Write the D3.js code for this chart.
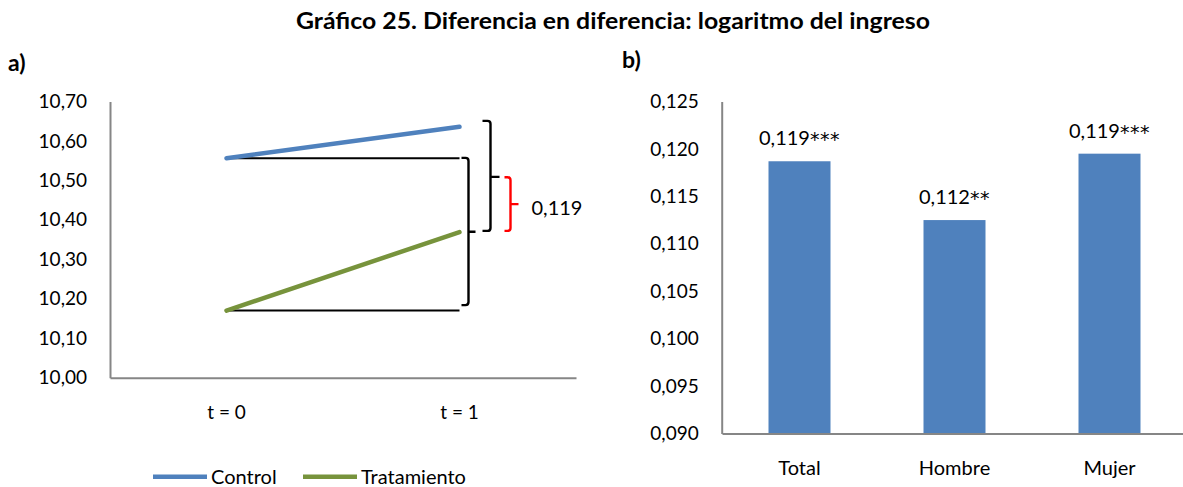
<!DOCTYPE html>
<html><head><meta charset="utf-8">
<script src="https://cdn.jsdelivr.net/npm/d3@7"></script>
<style>
html,body{margin:0;padding:0;background:#fff;}
svg{display:block;font-family:Lato,"Open Sans",sans-serif;}
</style></head>
<body>
<svg id="c" width="1183" height="487"></svg>
<script>
// ---- data ----
const title = "Gráfico 25. Diferencia en diferencia: logaritmo del ingreso";
const periods = ["t = 0", "t = 1"];
const controlValues = [10.556, 10.636];
const treatmentValues = [10.170, 10.369];
const seriesNames = ["Control", "Tratamiento"];
const leftTicks = [10.0, 10.1, 10.2, 10.3, 10.4, 10.5, 10.6, 10.7];
const didLabel = "0,119";
// brace annotations (data units): top, bottom, middle tick
const braceInner = {top: 10.557, bottom: 10.184, mid: 10.370};
const braceOuter = {top: 10.651, bottom: 10.372, mid: 10.509};
const braceRed   = {top: 10.508, bottom: 10.372, mid: 10.440};

const groups = ["Total", "Hombre", "Mujer"];
const groupValues = [0.1187, 0.1125, 0.1195];
const groupNumbers = ["0,119", "0,112", "0,119"];
const groupStars = ["***", "**", "***"];
const rightTicks = [0.090, 0.095, 0.100, 0.105, 0.110, 0.115, 0.120, 0.125];

// ---- setup ----
const loc = d3.formatLocale({decimal: ",", thousands: ".", grouping: [3], currency: ["", ""]});
const f2 = loc.format(".2f"), f3 = loc.format(".3f");
const svg = d3.select("#c");
const axisColor = "#868686";
const blue = "#4F81BD", green = "#77933C";
const fsTick = 19, fs = 20;

svg.append("text").attr("x", 613).attr("y", 20).attr("text-anchor", "middle")
  .attr("dominant-baseline", "central").attr("font-weight", "bold").attr("font-size", 23)
  .attr("textLength", 634).attr("lengthAdjust", "spacingAndGlyphs")
  .text(title);
svg.append("text").attr("x", 8).attr("y", 62).attr("dominant-baseline", "central")
  .attr("font-weight", "bold").attr("font-size", 23).text("a)");
svg.append("text").attr("x", 622).attr("y", 59).attr("dominant-baseline", "central")
  .attr("font-weight", "bold").attr("font-size", 23).text("b)");

// ---- left chart ----
const yL = d3.scaleLinear().domain([10.0, 10.7]).range([377.7, 101.5]);
const xL = d3.scaleBand().domain(periods).range([110, 576]).padding(0);
const cx = p => xL(p) + xL.bandwidth() / 2;

const gL = svg.append("g");
const ayL = gL.append("g").attr("transform", "translate(110,0)")
  .call(d3.axisLeft(yL).tickValues(leftTicks).tickFormat(f2).tickSize(0).tickPadding(23));
ayL.select(".domain").attr("stroke", axisColor).attr("stroke-width", 2);
ayL.selectAll("text").attr("font-size", fsTick).attr("font-family", "Lato").attr("fill", "#000");
const axL = gL.append("g").attr("transform", "translate(0,377.7)")
  .call(d3.axisBottom(xL).tickSize(0).tickPadding(28));
axL.select(".domain").attr("stroke", axisColor).attr("stroke-width", 2);
axL.selectAll("text").attr("font-size", fsTick).attr("font-family", "Lato").attr("fill", "#000");

[controlValues[0], treatmentValues[0]].forEach(v => {
  gL.append("line").attr("x1", cx(periods[0])).attr("x2", cx(periods[1]))
    .attr("y1", yL(v)).attr("y2", yL(v)).attr("stroke", "#000").attr("stroke-width", 2);
});

const line = d3.line().x((d, i) => cx(periods[i])).y(d => yL(d));
gL.append("path").datum(controlValues).attr("d", line).attr("fill", "none")
  .attr("stroke", blue).attr("stroke-width", 4.5).attr("stroke-linecap", "round");
gL.append("path").datum(treatmentValues).attr("d", line).attr("fill", "none")
  .attr("stroke", green).attr("stroke-width", 4.5).attr("stroke-linecap", "round");

function brace(b, xTip, xV, xTick, color) {
  const t = yL(b.top), bo = yL(b.bottom), m = yL(b.mid), r = 3;
  const d = `M${xTip},${t} H${xV - r} Q${xV},${t} ${xV},${t + r} V${bo - r} Q${xV},${bo} ${xV - r},${bo} H${xTip}` +
            ` M${xV},${m} H${xTick}`;
  gL.append("path").attr("d", d).attr("fill", "none").attr("stroke", color)
    .attr("stroke-width", 2.4).attr("stroke-linejoin", "round");
}
const x1 = cx(periods[1]);
brace(braceInner, x1 + 2, x1 + 9, x1 + 16, "#000");
brace(braceOuter, x1 + 23, x1 + 31, x1 + 40, "#000");
brace(braceRed, x1 + 45, x1 + 51, x1 + 59, "#FF0000");
gL.append("text").attr("x", x1 + 72).attr("y", yL(braceRed.mid) + 3)
  .attr("dominant-baseline", "central").attr("font-size", fs).text(didLabel);

// legend
const legend = [{name: seriesNames[0], color: blue, x: 153}, {name: seriesNames[1], color: green, x: 303}];
legend.forEach(l => {
  gL.append("line").attr("x1", l.x).attr("x2", l.x + 54).attr("y1", 476.7).attr("y2", 476.7)
    .attr("stroke", l.color).attr("stroke-width", 4.5);
  gL.append("text").attr("x", l.x + 58).attr("y", 476).attr("dominant-baseline", "central")
    .attr("font-size", fs).text(l.name);
});

// ---- right chart ----
const yR = d3.scaleLinear().domain([0.090, 0.125]).range([433.5, 101.5]);
const xR = d3.scaleBand().domain(groups).range([722, 1187]).paddingInner(0.6).paddingOuter(0.3);
const gR = svg.append("g");
gR.selectAll("rect").data(groups).join("rect")
  .attr("x", d => xR(d)).attr("width", xR.bandwidth())
  .attr("y", (d, i) => yR(groupValues[i])).attr("height", (d, i) => yR(0.090) - yR(groupValues[i]))
  .attr("fill", blue);
const lbl = gR.selectAll("text.lbl").data(groups).join("text").attr("class", "lbl")
  .attr("x", d => xR(d) + xR.bandwidth() / 2).attr("y", (d, i) => yR(groupValues[i]) - 24)
  .attr("text-anchor", "middle").attr("dominant-baseline", "central").attr("font-size", fs);
lbl.append("tspan").text((d, i) => groupNumbers[i]);
lbl.append("tspan").attr("font-family", "DejaVu Sans").attr("font-size", 19).attr("dy", 2)
  .attr("letter-spacing", 0.5).text((d, i) => groupStars[i]);

const ayR = gR.append("g").attr("transform", "translate(721.7,0)")
  .call(d3.axisLeft(yR).tickValues(rightTicks).tickFormat(f3).tickSize(0).tickPadding(23));
ayR.select(".domain").attr("stroke", axisColor).attr("stroke-width", 2);
ayR.selectAll("text").attr("font-size", fsTick).attr("font-family", "Lato").attr("fill", "#000");
const axR = gR.append("g").attr("transform", "translate(0,433.5)")
  .call(d3.axisBottom(xR).tickSize(0).tickPadding(27));
axR.select(".domain").attr("stroke", axisColor).attr("stroke-width", 2);
axR.selectAll("text").attr("font-size", fs).attr("font-family", "Lato").attr("fill", "#000");
</script>
</body></html>
